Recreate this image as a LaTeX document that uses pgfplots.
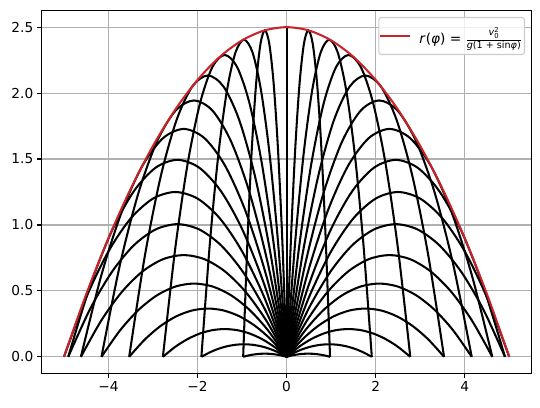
\documentclass[border=0pt]{standalone}
\usepackage{fontspec}
\setmainfont{DejaVu Sans}
\usepackage{amsmath}
\usepackage{pgfplots}
\usepackage{pgfplotstable}
\pgfplotsset{compat=1.18}
\usetikzlibrary{calc}
\definecolor{envred}{RGB}{200,35,40}
\definecolor{gridgray}{RGB}{176,176,176}
\definecolor{legedge}{RGB}{204,204,204}

% trajectories: columns x, mx (mirrored x), lo (flat angle), hi (steep angle)
\pgfplotstableread{
x mx lo hi
0 0 0 0
0.09755 -0.09755 0.00865 0.89135
0.19509 -0.19509 0.01537 1.58463
0.29264 -0.29264 0.02018 2.07982
0.39018 -0.39018 0.02306 2.37694
0.48773 -0.48773 0.02402 2.47598
0.58527 -0.58527 0.02306 2.37694
0.68282 -0.68282 0.02018 2.07982
0.78036 -0.78036 0.01537 1.58463
0.87791 -0.87791 0.00865 0.89135
0.97545 -0.97545 0 0
}\PA
\pgfplotstableread{
x mx lo hi
0 0 0 0
0.19134 -0.19134 0.03425 0.86575
0.38268 -0.38268 0.06090 1.53910
0.57403 -0.57403 0.07993 2.02007
0.76537 -0.76537 0.09134 2.30866
0.95671 -0.95671 0.09515 2.40485
1.14805 -1.14805 0.09134 2.30866
1.33939 -1.33939 0.07993 2.02007
1.53074 -1.53074 0.06090 1.53910
1.72208 -1.72208 0.03425 0.86575
1.91342 -1.91342 0 0
}\PB
\pgfplotstableread{
x mx lo hi
0 0 0 0
0.27779 -0.27779 0.07584 0.82416
0.55557 -0.55557 0.13482 1.46518
0.83336 -0.83336 0.17695 1.92305
1.11114 -1.11114 0.20223 2.19777
1.38893 -1.38893 0.21066 2.28934
1.66671 -1.66671 0.20223 2.19777
1.94450 -1.94450 0.17695 1.92305
2.22228 -2.22228 0.13482 1.46518
2.50007 -2.50007 0.07584 0.82416
2.77785 -2.77785 0 0
}\PC
\pgfplotstableread{
x mx lo hi
0 0 0 0
0.35355 -0.35355 0.13180 0.76820
0.70711 -0.70711 0.23432 1.36568
1.06066 -1.06066 0.30754 1.79246
1.41421 -1.41421 0.35148 2.04852
1.76777 -1.76777 0.36612 2.13388
2.12132 -2.12132 0.35148 2.04852
2.47487 -2.47487 0.30754 1.79246
2.82843 -2.82843 0.23432 1.36568
3.18198 -3.18198 0.13180 0.76820
3.53553 -3.53553 0 0
}\PD
\pgfplotstableread{
x mx lo hi
0 0 0 0
0.41574 -0.41574 0.19999 0.70001
0.83147 -0.83147 0.35555 1.24445
1.24721 -1.24721 0.46665 1.63335
1.66294 -1.66294 0.53332 1.86668
2.07868 -2.07868 0.55554 1.94446
2.49441 -2.49441 0.53332 1.86668
2.91015 -2.91015 0.46665 1.63335
3.32588 -3.32588 0.35555 1.24445
3.74162 -3.74162 0.19999 0.70001
4.15735 -4.15735 0 0
}\PE
\pgfplotstableread{
x mx lo hi
0 0 0 0
0.46194 -0.46194 0.27779 0.62221
0.92388 -0.92388 0.49386 1.10614
1.38582 -1.38582 0.64819 1.45181
1.84776 -1.84776 0.74078 1.65922
2.30970 -2.30970 0.77165 1.72835
2.77164 -2.77164 0.74078 1.65922
3.23358 -3.23358 0.64819 1.45181
3.69552 -3.69552 0.49386 1.10614
4.15746 -4.15746 0.27779 0.62221
4.61940 -4.61940 0 0
}\PF
\pgfplotstableread{
x mx lo hi
0 0 0 0
0.49039 -0.49039 0.36221 0.53779
0.98079 -0.98079 0.64393 0.95607
1.47118 -1.47118 0.84516 1.25484
1.96157 -1.96157 0.96589 1.43411
2.45197 -2.45197 1.00614 1.49386
2.94236 -2.94236 0.96589 1.43411
3.43275 -3.43275 0.84516 1.25484
3.92314 -3.92314 0.64393 0.95607
4.41354 -4.41354 0.36221 0.53779
4.90393 -4.90393 0 0
}\PG
\pgfplotstableread{
x mx y
0 0 0
0.5 -0.5 0.45
1 -1 0.8
1.5 -1.5 1.05
2 -2 1.2
2.5 -2.5 1.25
3 -3 1.2
3.5 -3.5 1.05
4 -4 0.8
4.5 -4.5 0.45
5 -5 0
}\PH
\pgfplotstableread{
x y
-5 0
-4.5 0.475
-4 0.9
-3.5 1.275
-3 1.6
-2.5 1.875
-2 2.1
-1.5 2.275
-1 2.4
-0.5 2.475
0 2.5
0.5 2.475
1 2.4
1.5 2.275
2 2.1
2.5 1.875
3 1.6
3.5 1.275
4 0.9
4.5 0.475
5 0
}\Env

\pgfplotsset{traj/.style={black, line width=2.05bp, smooth, forget plot}}
\newcommand{\fourtraj}[1]{%
  \addplot[traj] table[x=x,y=lo]{#1};
  \addplot[traj] table[x=x,y=hi]{#1};
  \addplot[traj] table[x=mx,y=lo]{#1};
  \addplot[traj] table[x=mx,y=hi]{#1};
}

\begin{document}
\begin{tikzpicture}
\begin{axis}[name=ax, at={(0,0)}, anchor=south west,
  scale only axis, width=489.8bp, height=362.6bp,
  xmin=-5.5, xmax=5.5, ymin=-0.125, ymax=2.625,
  xtick={-4,-2,0,2,4}, xticklabels={−4,−2,0,2,4},
  ytick={0,0.5,1,1.5,2,2.5}, yticklabels={0.0,0.5,1.0,1.5,2.0,2.5},
  grid=major, major grid style={gridgray, line width=1.1bp},
  tick align=outside, xtick pos=bottom, ytick pos=left,
  major tick length=4.9bp, every tick/.style={black, line width=1.1bp},
  axis line style={line width=1.1bp},
  tick label style={font=\fontsize{13.7bp}{16bp}\selectfont},
  legend style={at={(1,1)}, anchor=north east, xshift=-6.5bp, yshift=-6.3bp,
    draw=legedge, line width=1.1bp, rounded corners=2.5bp, fill=white, fill opacity=0.8, text opacity=1,
    font=\fontsize{13.7bp}{16bp}\selectfont, inner xsep=0.5bp, inner ysep=7.5bp},
  legend cell align=left,
  legend image code/.code={\draw[#1, line width=2.05bp] (0bp,0bp) -- (30bp,0bp); \path (36bp,0bp);},
]
\fourtraj{\PA}
\fourtraj{\PB}
\fourtraj{\PC}
\fourtraj{\PD}
\fourtraj{\PE}
\fourtraj{\PF}
\fourtraj{\PG}
\addplot[traj] table[x=x,y=y]{\PH};
\addplot[traj] table[x=mx,y=y]{\PH};
\addplot[black, line width=2.05bp, forget plot] coordinates {(0,0) (0,2.5)};
\addplot[envred, line width=2.05bp, smooth] table[x=x,y=y]{\Env};
\addlegendentry{\textit{r}(\textit{φ}) = $\genfrac{}{}{0.7bp}{}{\text{\textit{v}}^{\text{2}}_{\text{0}}\rule[-1.5bp]{0pt}{1bp}}{\rule{0pt}{8bp}\text{\textit{g}(1 + sin\textit{φ})}}$}
\end{axis}
\pgfresetboundingbox
\path ($(ax.south west)+(-41.7bp,-34.7bp)$) rectangle ($(ax.north east)+(8.5bp,10.7bp)$);
\end{tikzpicture}
\end{document}
